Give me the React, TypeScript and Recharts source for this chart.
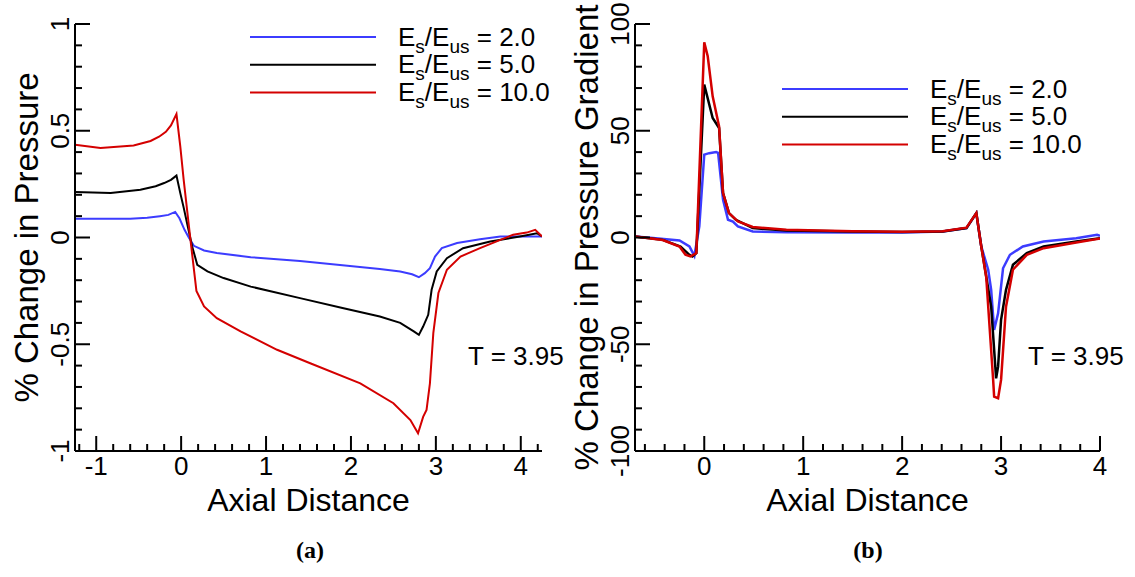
import { Label, Legend, Line, LineChart, XAxis, YAxis } from "recharts";

// Values (axial distance vs % change), T = 3.95
const ratioNames = ["2.0", "5.0", "10.0"];

const pressureX2 = [-1.25, -0.9, -0.6, -0.4, -0.25, -0.15, -0.07, -0.02, 0.04, 0.09, 0.15, 0.27, 0.42, 0.82, 1.4, 1.9, 2.34, 2.58, 2.72, 2.8, 2.87, 2.93, 2.99, 3.07, 3.25, 3.52, 3.76, 4.0, 4.25];
const pressureY2 = [0.088, 0.088, 0.088, 0.092, 0.1, 0.106, 0.12, 0.09, 0.036, 0.0, -0.039, -0.061, -0.073, -0.092, -0.11, -0.13, -0.148, -0.159, -0.172, -0.186, -0.167, -0.144, -0.089, -0.05, -0.026, -0.008, 0.005, 0.005, 0.005];

const pressureX5 = [-1.25, -0.83, -0.48, -0.3, -0.2, -0.12, -0.055, -0.01, 0.03, 0.07, 0.13, 0.19, 0.31, 0.5, 0.82, 1.4, 1.9, 2.34, 2.58, 2.74, 2.8, 2.85, 2.91, 2.95, 3.01, 3.13, 3.32, 3.64, 3.99, 4.19, 4.25];
const pressureY5 = [0.213, 0.208, 0.224, 0.24, 0.255, 0.27, 0.29, 0.208, 0.14, 0.067, -0.042, -0.128, -0.159, -0.19, -0.23, -0.284, -0.33, -0.37, -0.4, -0.44, -0.456, -0.417, -0.362, -0.245, -0.159, -0.097, -0.05, -0.019, 0.005, 0.02, 0.005];

const pressureX10 = [-1.25, -0.95, -0.56, -0.36, -0.26, -0.18, -0.12, -0.055, -0.01, 0.03, 0.11, 0.18, 0.27, 0.42, 0.7, 1.13, 1.52, 2.11, 2.5, 2.7, 2.79, 2.85, 2.89, 2.93, 2.97, 3.03, 3.13, 3.29, 3.52, 3.76, 3.91, 4.07, 4.17, 4.25];
const pressureY10 = [0.435, 0.419, 0.431, 0.452, 0.472, 0.495, 0.525, 0.578, 0.427, 0.27, -0.011, -0.25, -0.323, -0.378, -0.44, -0.526, -0.589, -0.683, -0.776, -0.855, -0.917, -0.84, -0.808, -0.683, -0.448, -0.26, -0.151, -0.089, -0.05, -0.011, 0.013, 0.023, 0.036, 0.005];

const gradientX2 = [-0.7, -0.49, -0.25, -0.15, -0.1, -0.05, 0.0, 0.05, 0.12, 0.14, 0.19, 0.24, 0.29, 0.34, 0.49, 0.83, 1.5, 2.0, 2.41, 2.65, 2.75, 2.8, 2.87, 2.9, 2.93, 2.97, 3.02, 3.09, 3.22, 3.43, 3.76, 3.97, 4.0];
const gradientY2 = [0.5, -0.3, -1.4, -4.2, -8.6, 5.2, 38.8, 39.5, 40, 39.6, 17.7, 8.3, 7.5, 5.2, 2.8, 2.5, 2.3, 2.3, 2.8, 4.4, 11.4, -4.2, -15.1, -24.5, -43.3, -35.5, -14.4, -8.1, -4.2, -1.9, -0.3, 1.3, 0.8];

const gradientX5 = [-0.7, -0.42, -0.24, -0.15, -0.12, -0.08, 0.0, 0.085, 0.15, 0.19, 0.25, 0.32, 0.49, 0.83, 1.5, 2.0, 2.41, 2.65, 2.75, 2.8, 2.85, 2.9, 2.95, 2.97, 3.0, 3.05, 3.12, 3.26, 3.43, 3.76, 4.0];
const gradientY5 = [0.5, -1.1, -4.2, -8.1, -8.9, -7.3, 71.6, 56, 51.3, 20.8, 11.4, 8.3, 4.4, 3.3, 2.8, 2.6, 2.8, 4.4, 11.4, -4.2, -18.3, -32.4, -66, -60.5, -38.6, -24.5, -12.8, -7.3, -4.2, -1.9, -0.3];

const gradientX10 = [-0.7, -0.42, -0.25, -0.19, -0.14, -0.08, 0.0, 0.035, 0.085, 0.15, 0.19, 0.25, 0.34, 0.49, 0.83, 1.5, 2.0, 2.41, 2.65, 2.75, 2.8, 2.85, 2.92, 2.93, 2.97, 3.0, 3.05, 3.12, 3.26, 3.43, 3.76, 4.0];
const gradientY10 = [0.5, -1.2, -4.2, -8.1, -8.9, -7.3, 91.4, 84.9, 66.1, 52, 20.8, 11.4, 7.5, 4.9, 3.6, 2.9, 2.7, 2.9, 4.6, 11.4, -4.2, -18.5, -66.7, -74.5, -75.3, -66.7, -32.4, -15.1, -8.1, -5, -2.3, -0.5];

const pressureXMajor = [-1, 0, 1, 2, 3, 4];
const pressureYMajor = [-1, -0.5, 0, 0.5, 1];
const gradientXMajor = [0, 1, 2, 3, 4];
const gradientYMajor = [-100, -50, 0, 50, 100];

const COLORS = ["#3c3cff", "#000000", "#d40000"];
const FONT = "'Liberation Sans', Arial, sans-serif";

const zip = (xs: number[], ys: number[]) => xs.map((x, i) => ({ x, y: ys[i] }));

// minor ticks, majors included
function tickList(from: number, to: number, step: number) {
  const n = Math.round((to - from) / step);
  const out: number[] = [];
  for (let i = 0; i <= n; i++) out.push(Math.round((from + i * step) * 1000) / 1000);
  return out;
}

const isMajor = (v: number, majors: number[]) => majors.some((m) => Math.abs(m - v) < 1e-6);

function xTick(majors: number[]) {
  return (p: any) => {
    const v = p.payload.value;
    const major = isMajor(v, majors);
    return (
      <g>
        <line x1={p.x} x2={p.x} y1={p.y} y2={p.y - (major ? 15 : 7)} stroke="#000" strokeWidth={2} />
        {major && (
          <text x={p.x} y={p.y + 24} textAnchor="middle" fontSize={26} fontFamily={FONT} fill="#000">
            {String(v)}
          </text>
        )}
      </g>
    );
  };
}

function yTick(majors: number[]) {
  return (p: any) => {
    const v = p.payload.value;
    const major = isMajor(v, majors);
    const tx = p.x - 6;
    return (
      <g>
        <line x1={p.x} x2={p.x + (major ? 15 : 7)} y1={p.y} y2={p.y} stroke="#000" strokeWidth={2} />
        {major && (
          <text
            x={tx}
            y={p.y}
            textAnchor="middle"
            transform={`rotate(-90, ${tx}, ${p.y})`}
            fontSize={26}
            fontFamily={FONT}
            fill="#000"
          >
            {String(v)}
          </text>
        )}
      </g>
    );
  };
}

function legendContent(props: any) {
  const items = [...(props.payload ?? [])].sort(
    (a: any, b: any) => ratioNames.indexOf(a.value) - ratioNames.indexOf(b.value)
  );
  return (
    <svg width={320} height={90} style={{ display: "block", overflow: "visible" }}>
      {items.map((item: any, i: number) => {
        const cy = 12 + i * 27.7;
        return (
          <g key={i}>
            <line x1={0} x2={126} y1={cy} y2={cy} stroke={item.color} strokeWidth={2} />
            <text x={148} y={cy + 8.7} fontSize={26} fontFamily={FONT} fill="#000">
              E<tspan fontSize={19} dy={7}>s</tspan>
              <tspan fontSize={26} dy={-7}>/E</tspan>
              <tspan fontSize={19} dy={7}>us</tspan>
              <tspan fontSize={26} dy={-7}> = {item.value}</tspan>
            </text>
          </g>
        );
      })}
    </svg>
  );
}

interface PanelProps {
  width: number;
  marginRight: number;
  xDomain: [number, number];
  yDomain: [number, number];
  xTicks: number[];
  yTicks: number[];
  xMajor: number[];
  yMajor: number[];
  yTitle: string;
  series: { name: string; data: { x: number; y: number }[] }[];
  legendLeft: number;
  legendTop: number;
  caption: string;
  captionX: number;
  strokeWidth: number;
}

function Panel(props: PanelProps) {
  return (
    <LineChart
      width={props.width}
      height={577}
      margin={{ top: 24, right: props.marginRight, bottom: 0, left: 0 }}
    >
      <XAxis
        type="number"
        dataKey="x"
        domain={props.xDomain}
        ticks={props.xTicks}
        interval={0}
        allowDataOverflow
        height={126}
        tickSize={0}
        tickMargin={0}
        tickLine={false}
        axisLine={{ stroke: "#000", strokeWidth: 2 }}
        tick={xTick(props.xMajor)}
      >
        <Label
          content={(p: any) => {
            const vb = p.viewBox;
            return (
              <text x={vb.x + vb.width / 2} y={vb.y + 60} textAnchor="middle" fontSize={32} fontFamily={FONT} fill="#000">
                Axial Distance
              </text>
            );
          }}
        />
      </XAxis>
      <YAxis
        type="number"
        dataKey="y"
        domain={props.yDomain}
        ticks={props.yTicks}
        interval={0}
        allowDataOverflow
        width={75}
        tickSize={0}
        tickMargin={0}
        tickLine={false}
        axisLine={{ stroke: "#000", strokeWidth: 2 }}
        tick={yTick(props.yMajor)}
      >
        <Label
          content={(p: any) => {
            const vb = p.viewBox;
            const tx = vb.x + vb.width - 37;
            const ty = vb.y + vb.height / 2;
            return (
              <text x={tx} y={ty} textAnchor="middle" transform={`rotate(-90, ${tx}, ${ty})`} fontSize={33} fontFamily={FONT} fill="#000">
                {props.yTitle}
              </text>
            );
          }}
        />
      </YAxis>
      <Legend
        layout="vertical"
        align="center"
        verticalAlign="middle"
        content={legendContent}
        wrapperStyle={{ left: props.legendLeft, top: props.legendTop, width: 320, height: 90 }}
      />
      {props.series.map((s, i) => (
        <Line
          key={s.name}
          data={s.data}
          dataKey="y"
          name={s.name}
          type="linear"
          stroke={COLORS[i]}
          strokeWidth={props.strokeWidth}
          dot={false}
          activeDot={false}
          isAnimationActive={false}
        />
      ))}
      <text x={468} y={365} fontSize={26} fontFamily={FONT} fill="#000">
        T = 3.95
      </text>
      <text
        x={props.captionX}
        y={558}
        textAnchor="middle"
        fontSize={24}
        fontWeight="bold"
        fontFamily="'Liberation Serif', 'Times New Roman', serif"
        fill="#000"
      >
        {props.caption}
      </text>
    </LineChart>
  );
}

export default function App() {
  const pressureSeries = [
    { name: ratioNames[0], data: zip(pressureX2, pressureY2) },
    { name: ratioNames[1], data: zip(pressureX5, pressureY5) },
    { name: ratioNames[2], data: zip(pressureX10, pressureY10) },
  ];
  const gradientSeries = [
    { name: ratioNames[0], data: zip(gradientX2, gradientY2) },
    { name: ratioNames[1], data: zip(gradientX5, gradientY5) },
    { name: ratioNames[2], data: zip(gradientX10, gradientY10) },
  ];
  return (
    <div style={{ position: "absolute", left: 0, top: 0, width: 1135, height: 577, background: "#fff" }}>
      <div style={{ position: "absolute", left: 0, top: 0 }}>
        <Panel
          width={580}
          marginRight={38}
          xDomain={[-1.25, 4.25]}
          yDomain={[-1, 1]}
          xTicks={tickList(-1.2, 4.2, 0.2)}
          yTicks={tickList(-1, 1, 0.1)}
          xMajor={pressureXMajor}
          yMajor={pressureYMajor}
          yTitle="% Change in Pressure"
          series={pressureSeries}
          legendLeft={250}
          legendTop={25}
          caption="(a)"
          captionX={310}
          strokeWidth={2}
        />
      </div>
      <div style={{ position: "absolute", left: 560, top: 0 }}>
        <Panel
          width={575}
          marginRight={35}
          xDomain={[-0.7, 4]}
          yDomain={[-100, 100]}
          xTicks={tickList(-0.6, 4, 0.2)}
          yTicks={tickList(-100, 100, 10)}
          xMajor={gradientXMajor}
          yMajor={gradientYMajor}
          yTitle="% Change in Pressure Gradient"
          series={gradientSeries}
          legendLeft={222}
          legendTop={77}
          caption="(b)"
          captionX={308}
          strokeWidth={2.5}
        />
      </div>
    </div>
  );
}
